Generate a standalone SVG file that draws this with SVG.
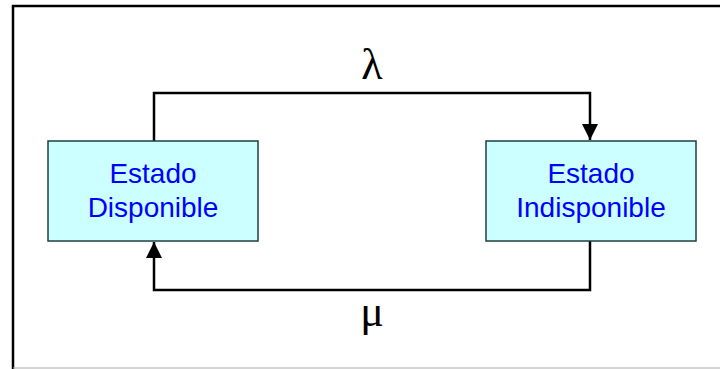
<svg xmlns="http://www.w3.org/2000/svg" width="720" height="369" viewBox="0 0 720 369">
<style>
.box{fill:#CCFFFF;stroke:#1F3F3F;stroke-width:1.5}
.lbl{font-family:"Liberation Sans",Arial,sans-serif;font-size:28px;fill:#0000FF;text-anchor:middle}
.greek{font-family:"Liberation Serif","Times New Roman",serif;font-size:44px;fill:#000;text-anchor:middle}
.conn{fill:none;stroke:#000;stroke-width:2.5}
</style>
<defs>
<marker id="ah" markerUnits="userSpaceOnUse" markerWidth="16" markerHeight="16" refX="16" refY="8" orient="auto" viewBox="0 0 16 16">
<path d="M0,0 L16,8 L0,16 Z" fill="#000"/>
</marker>
</defs>
<rect x="0" y="0" width="720" height="369" fill="#fff"/>
<path d="M13,369 V6 H720" fill="none" stroke="#000" stroke-width="2.5"/>
<line x1="13" y1="368" x2="720" y2="368" stroke="#AAAAAA" stroke-width="1"/>
<g id="connectors">
<path class="conn" d="M154,141 V93 H590 V140" marker-end="url(#ah)"/>
<path class="conn" d="M590,241 V290 H154 V242" marker-end="url(#ah)"/>
<text class="greek" x="372" y="79">λ</text>
<text class="greek" x="372" y="326">μ</text>
</g>
<g id="disponible">
<rect class="box" x="48" y="141" width="210" height="100"/>
<text class="lbl" x="153" y="183">Estado</text>
<text class="lbl" x="153" y="217">Disponible</text>
</g>
<g id="indisponible">
<rect class="box" x="486" y="141" width="210" height="100"/>
<text class="lbl" x="591" y="183">Estado</text>
<text class="lbl" x="591" y="217">Indisponible</text>
</g>
</svg>
